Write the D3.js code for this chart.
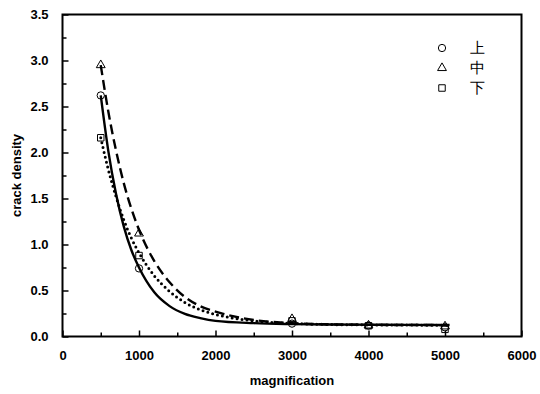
<!DOCTYPE html>
<html>
<head>
<meta charset="utf-8">
<script src="https://cdn.jsdelivr.net/npm/d3@7"></script>
<style>
  body { margin: 0; background: #fff; -webkit-font-smoothing: antialiased; }
  text { font-family: "Liberation Sans", Arial, sans-serif; fill: #000; }
</style>
</head>
<body>
<svg id="main-svg" width="540" height="394"></svg>
<script>
(function() {

    // measured points
    var mags = [500, 1000, 3000, 4000, 5000];
    var upper = [2.62, 0.74, 0.14, 0.12, 0.10];   // 上
    var middle = [2.95, 1.12, 0.19, 0.12, 0.11];  // 中
    var lower = [2.16, 0.88, 0.17, 0.117, 0.078]; // 下

    // fitted curves
    var curveX = [500, 600, 700, 800, 900, 1000, 1200, 1400, 1600, 1800, 2000, 2500, 3000, 3500, 4000, 4500, 5060];
    var upperFit = [2.62, 2.01, 1.55, 1.20, 0.94, 0.75, 0.48, 0.33, 0.245, 0.2, 0.17, 0.145, 0.135, 0.13, 0.128, 0.126, 0.125];
    var middleFit = [2.95, 2.44, 2.02, 1.67, 1.39, 1.16, 0.82, 0.59, 0.43, 0.33, 0.27, 0.18, 0.145, 0.132, 0.127, 0.125, 0.124];
    var lowerFit = [2.16, 1.81, 1.52, 1.27, 1.07, 0.91, 0.66, 0.49, 0.37, 0.29, 0.24, 0.17, 0.142, 0.13, 0.126, 0.124, 0.123];

    var xTicks = [0, 1000, 2000, 3000, 4000, 5000, 6000];
    var yTicks = [0, 0.5, 1.0, 1.5, 2.0, 2.5, 3.0, 3.5];
    var legendNames = ["上", "中", "下"];

    var svg = d3.select("#main-svg");

    var left = 62.5, right = 521.5, top = 14.5, bottom = 336.5;

    var x = d3.scaleLinear().domain([0, 6000]).range([left, right]);
    var y = d3.scaleLinear().domain([0, 3.5]).range([bottom, top]);

    // minor ticks (inward)
    var xMinor = d3.range(500, 6000, 1000);
    var yMinor = d3.range(0.25, 3.5, 0.5);

    svg.append("g")
    .attr("transform", "translate(0," + bottom + ")")
    .call(d3.axisBottom(x).tickValues(xMinor).tickSize(-4).tickFormat(""))
    .call(function(g) { g.select(".domain").remove(); })
    .selectAll("line").attr("stroke-width", 1.5);

    svg.append("g")
    .attr("transform", "translate(" + left + ",0)")
    .call(d3.axisLeft(y).tickValues(yMinor).tickSize(-4).tickFormat(""))
    .call(function(g) { g.select(".domain").remove(); })
    .selectAll("line").attr("stroke-width", 1.5);

    var xAxis = svg.append("g")
    .attr("transform", "translate(0," + bottom + ")")
    .call(d3.axisBottom(x).tickValues(xTicks).tickSize(-6).tickPadding(14).tickFormat(d3.format("d")));
    xAxis.select(".domain").remove();
    xAxis.selectAll("line").attr("stroke-width", 1.5);
    xAxis.selectAll("text")
    .attr("font-size", 13).attr("font-weight", "bold")
    .attr("font-family", "Liberation Sans, Arial, sans-serif").attr("fill", "#000");

    var yAxis = svg.append("g")
    .attr("transform", "translate(" + left + ",0)")
    .call(d3.axisLeft(y).tickValues(yTicks).tickSize(-6).tickPadding(14).tickFormat(d3.format(".1f")));
    yAxis.select(".domain").remove();
    yAxis.selectAll("line").attr("stroke-width", 1.5);
    yAxis.selectAll("text")
    .attr("font-size", 13).attr("font-weight", "bold")
    .attr("font-family", "Liberation Sans, Arial, sans-serif").attr("fill", "#000");

    // frame
    svg.append("rect")
    .attr("x", left).attr("y", top)
    .attr("width", right - left).attr("height", bottom - top)
    .attr("fill", "none").attr("stroke", "#000").attr("stroke-width", 2);

    // curves
    var line = d3.line()
    .x(function(d) { return x(d[0]); })
    .y(function(d) { return y(d[1]); })
    .curve(d3.curveMonotoneX);

    var curves = [
        { values: upperFit, dash: null, cap: "butt" },
        { values: middleFit, dash: "10,5", cap: "butt" },
        { values: lowerFit, dash: "0,5", cap: "round" }
    ];

    curves.forEach(function(c) {
        var pts = curveX.map(function(v, i) { return [v, c.values[i]]; });
        svg.append("path")
        .attr("d", line(pts))
        .attr("fill", "none")
        .attr("stroke", "#000")
        .attr("stroke-width", c.cap === "round" ? 3 : 2.4)
        .attr("stroke-linecap", c.cap)
        .attr("stroke-dasharray", c.dash);
    });

    // markers
    var symbols = [d3.symbolCircle, d3.symbolTriangle, d3.symbolSquare];
    var sizes = [42, 34, 42];
    var series = [upper, middle, lower];

    series.forEach(function(vals, s) {
        var sym = d3.symbol().type(symbols[s]).size(sizes[s]);
        svg.selectAll(".m" + s)
        .data(vals)
        .enter()
        .append("path")
        .attr("d", sym)
        .attr("transform", function(d, i) {
            return "translate(" + x(mags[i]) + "," + y(d) + ")";
        })
        .attr("fill", "none")
        .attr("stroke", "#000")
        .attr("stroke-width", 1);
    });

    // legend
    legendNames.forEach(function(name, i) {
        var ly = 48 + i * 20;
        svg.append("path")
        .attr("d", d3.symbol().type(symbols[i]).size(sizes[i])())
        .attr("transform", "translate(442," + ly + ")")
        .attr("fill", "none").attr("stroke", "#000").attr("stroke-width", 1);
        svg.append("text")
        .attr("x", 477).attr("y", ly + 5)
        .attr("text-anchor", "middle")
        .attr("font-size", 15)
        .attr("fill", "#000")
        .attr("font-family", "Noto Sans CJK SC, sans-serif")
        .text(name);
    });

    // axis titles
    svg.append("text")
    .attr("x", (left + right) / 2).attr("y", 385)
    .attr("text-anchor", "middle")
    .attr("font-size", 13).attr("font-weight", "bold")
    .text("magnification");

    svg.append("text")
    .attr("transform", "translate(21," + ((top + bottom) / 2) + ") rotate(-90)")
    .attr("text-anchor", "middle")
    .attr("font-size", 13).attr("font-weight", "bold")
    .text("crack density");

})();
</script>
</body>
</html>
